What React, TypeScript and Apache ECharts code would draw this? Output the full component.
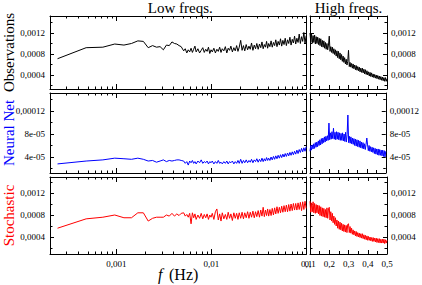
import React, { useEffect, useRef } from 'react';
import * as echarts from 'echarts';

// ---------- DATA ----------
const panelTitles = ['Low freqs.', 'High freqs.'];
const rowNames = ['Observations', 'Neural Net', 'Stochastic'];
const rowColors = ['#000000', '#0000ff', '#ff0000'];

// frequency bins (Hz) shown in the low-frequency (log) panel
const freqLow = [
  0.00024, 0.00048, 0.00072, 0.00096, 0.0012, 0.00144, 0.00168, 0.00192, 0.00216, 0.0024,
  0.00264, 0.00288, 0.00312, 0.00336, 0.0036, 0.00384, 0.00408, 0.00432, 0.00456, 0.0048,
  0.0051, 0.0053, 0.0055, 0.0057, 0.0059, 0.0061, 0.0063, 0.0065, 0.0067, 0.0069,
  0.0072, 0.0075, 0.0078, 0.0081, 0.0084, 0.0087, 0.009, 0.0093, 0.0096, 0.0099,
  0.0102, 0.0106, 0.011, 0.0114, 0.0118, 0.0122, 0.0126, 0.013, 0.0135, 0.014,
  0.0145, 0.015, 0.0155, 0.016, 0.0166, 0.0172, 0.0178, 0.0184, 0.019, 0.0196,
  0.0203, 0.021, 0.0217, 0.0224, 0.0232, 0.024, 0.0248, 0.0256, 0.0264, 0.0273,
  0.0282, 0.0291, 0.03, 0.031, 0.032, 0.033, 0.034, 0.035, 0.036, 0.037,
  0.038, 0.039, 0.04,
  0.0412, 0.0424, 0.0436, 0.0449, 0.0462, 0.0475, 0.0489, 0.0503, 0.0518, 0.0533,
  0.0548, 0.0564, 0.058, 0.0597, 0.0614, 0.0632, 0.065, 0.0669, 0.0688, 0.0708,
  0.0728, 0.0749, 0.077, 0.0792, 0.0815, 0.0838, 0.0862, 0.0887, 0.0912, 0.0938,
  0.0965, 0.0992,
];

// frequency bins (Hz) shown in the high-frequency (linear) panel
const freqHigh = [
  0.1, 0.104, 0.108, 0.112, 0.116, 0.12, 0.124, 0.128, 0.132, 0.136,
  0.14, 0.144, 0.148, 0.152, 0.156, 0.16, 0.164, 0.168, 0.172, 0.176,
  0.18, 0.184, 0.188, 0.192, 0.196, 0.2, 0.204, 0.208, 0.212, 0.216,
  0.22, 0.224, 0.228, 0.232, 0.236, 0.24, 0.244, 0.248, 0.252, 0.256,
  0.26, 0.264, 0.268, 0.272, 0.276, 0.28, 0.284, 0.288, 0.292, 0.296,
  0.3, 0.304, 0.308, 0.312, 0.316, 0.32, 0.324, 0.328, 0.332, 0.336,
  0.34, 0.344, 0.348, 0.352, 0.356, 0.36, 0.364, 0.368, 0.372, 0.376,
  0.38, 0.384, 0.388, 0.392, 0.396, 0.4, 0.404, 0.408, 0.412, 0.416,
  0.42, 0.424, 0.428, 0.432, 0.436, 0.44, 0.444, 0.448, 0.452, 0.456,
  0.46, 0.464, 0.468, 0.472, 0.476, 0.48, 0.484, 0.488, 0.492, 0.496,
  0.5,
];

const obsLow = [
  7.1e-4, 9.2e-4, 9.3e-4, 9.9e-4, 9.7e-4, 1.0e-3, 1.05e-3, 1.04e-3, 9.2e-4, 9.6e-4,
  9.3e-4, 9.4e-4, 8.8e-4, 9.7e-4, 9.6e-4, 1.03e-3, 1.0e-3, 9.9e-4, 9.6e-4, 9.4e-4,
  8.6e-4, 9.0e-4, 8.2e-4, 8.8e-4, 8.4e-4, 9.1e-4, 8.3e-4, 8.9e-4, 9.5e-4, 8.4e-4,
  9.0e-4, 8.2e-4, 8.7e-4, 9.2e-4, 8.3e-4, 8.9e-4, 8.5e-4, 9.3e-4, 8.1e-4, 8.8e-4,
  8.4e-4, 9.1e-4, 8.2e-4, 8.9e-4, 8.5e-4, 9.3e-4, 8.3e-4, 9.0e-4, 8.6e-4, 9.4e-4,
  8.2e-4, 9.1e-4, 8.7e-4, 9.5e-4, 8.4e-4, 9.2e-4, 8.6e-4, 9.6e-4, 8.5e-4, 9.3e-4,
  10.6e-4, 8.7e-4, 9.6e-4, 8.6e-4, 9.8e-4, 8.8e-4, 9.5e-4, 8.9e-4, 10.1e-4, 8.7e-4,
  9.7e-4, 9.0e-4, 10.0e-4, 8.9e-4, 9.9e-4, 9.2e-4, 10.3e-4, 9.0e-4, 9.8e-4, 9.3e-4,
  10.4e-4, 9.1e-4, 10.0e-4,
  9.4e-4, 10.5e-4, 9.3e-4, 10.2e-4, 9.6e-4, 10.7e-4, 9.4e-4, 10.4e-4, 9.7e-4, 10.9e-4,
  9.5e-4, 10.6e-4, 9.8e-4, 11.0e-4, 9.6e-4, 10.7e-4, 10.0e-4, 11.2e-4, 9.7e-4, 10.8e-4,
  10.1e-4, 11.4e-4, 9.9e-4, 11.0e-4, 10.2e-4, 11.8e-4, 10.0e-4, 11.3e-4, 10.4e-4, 12.1e-4,
  10.1e-4, 11.5e-4,
];
const obsHigh = [
  12.0e-4, 10.3e-4, 11.8e-4, 10.1e-4, 11.5e-4, 10.2e-4, 11.6e-4, 9.9e-4, 11.3e-4, 10.0e-4,
  11.2e-4, 9.8e-4, 11.0e-4,
  9.6e-4, 10.9e-4, 9.4e-4, 10.6e-4, 9.3e-4, 10.5e-4, 9.1e-4, 10.2e-4, 8.9e-4, 10.0e-4,
  8.8e-4, 9.7e-4,
  11.4e-4,
  8.5e-4, 9.4e-4, 8.3e-4, 9.3e-4, 8.1e-4, 9.0e-4, 7.9e-4, 8.8e-4, 7.6e-4, 8.6e-4, 7.3e-4,
  8.5e-4, 7.1e-4, 8.2e-4, 6.9e-4, 7.9e-4, 6.6e-4, 7.6e-4, 6.4e-4, 7.3e-4, 6.1e-4,
  7.0e-4, 5.9e-4, 6.6e-4, 8.7e-4,
  5.6e-4, 6.4e-4, 5.5e-4, 6.2e-4, 5.3e-4, 6.1e-4, 5.2e-4, 5.9e-4, 5.0e-4, 5.8e-4,
  4.9e-4, 5.6e-4, 4.8e-4, 5.5e-4, 4.6e-4, 5.3e-4,
  4.5e-4, 5.3e-4, 4.4e-4, 5.1e-4, 4.2e-4, 5.0e-4, 4.1e-4, 4.8e-4, 4.0e-4, 4.6e-4,
  3.8e-4, 4.5e-4, 3.7e-4, 4.4e-4, 3.6e-4, 4.2e-4, 3.5e-4,
  4.1e-4, 3.4e-4, 4.0e-4, 3.3e-4, 3.9e-4, 3.2e-4, 3.8e-4, 3.1e-4, 3.7e-4, 3.0e-4,
  3.6e-4, 2.9e-4, 3.5e-4, 2.8e-4, 3.5e-4, 2.8e-4, 3.3e-4,
];

const netLow = [
  2.8e-5, 3.3e-5, 3.5e-5, 3.8e-5, 3.7e-5, 3.6e-5, 3.8e-5, 3.6e-5, 3.3e-5, 3.4e-5,
  3.1e-5, 3.3e-5, 3.5e-5, 3.2e-5, 3.4e-5, 3.3e-5, 3.4e-5, 3.5e-5, 3.5e-5, 3.4e-5,
  3.3e-5, 2.9e-5, 3.2e-5, 2.6e-5, 3.3e-5, 3.0e-5, 3.4e-5, 2.9e-5, 3.2e-5, 2.8e-5,
  3.3e-5, 3.0e-5, 3.5e-5, 2.9e-5, 3.2e-5, 3.0e-5, 3.3e-5, 2.8e-5, 3.2e-5, 3.0e-5,
  3.3e-5, 2.8e-5, 3.2e-5, 2.9e-5, 3.4e-5, 2.9e-5, 3.1e-5, 2.8e-5, 3.2e-5, 2.9e-5,
  3.3e-5, 2.8e-5, 3.2e-5, 3.0e-5, 3.3e-5, 2.8e-5, 3.2e-5, 2.9e-5, 3.4e-5, 2.9e-5,
  3.6e-5, 2.9e-5, 3.4e-5, 3.0e-5, 3.5e-5, 3.0e-5, 3.4e-5, 3.1e-5, 3.6e-5, 3.0e-5,
  3.5e-5, 3.2e-5, 3.7e-5, 3.1e-5, 3.6e-5, 3.2e-5, 3.8e-5, 3.2e-5, 3.7e-5, 3.3e-5,
  3.9e-5, 3.4e-5, 3.8e-5,
  3.4e-5, 4.0e-5, 3.5e-5, 4.1e-5, 3.6e-5, 4.2e-5, 3.7e-5, 4.3e-5, 3.8e-5, 4.4e-5,
  3.9e-5, 4.5e-5, 4.0e-5, 4.6e-5, 4.1e-5, 4.7e-5, 4.2e-5, 4.8e-5, 4.3e-5, 4.9e-5,
  4.4e-5, 5.0e-5, 4.5e-5, 5.2e-5, 4.6e-5, 5.3e-5, 4.8e-5, 5.5e-5, 4.9e-5, 5.6e-5,
  5.0e-5, 5.8e-5,
];
const netHigh = [
  5.0e-5, 6.0e-5, 5.2e-5, 6.1e-5, 5.4e-5, 6.3e-5, 5.5e-5, 6.5e-5, 5.7e-5, 6.6e-5,
  5.8e-5, 6.8e-5, 6.0e-5,
  7.0e-5, 6.1e-5, 7.2e-5, 6.3e-5, 7.3e-5, 6.5e-5, 7.5e-5, 6.6e-5, 7.6e-5, 6.8e-5,
  7.7e-5, 6.9e-5,
  9.9e-5,
  7.0e-5, 8.2e-5, 7.1e-5, 8.4e-5, 7.2e-5, 9.0e-5, 7.1e-5, 8.3e-5, 7.0e-5, 8.4e-5, 7.1e-5,
  8.3e-5, 7.0e-5, 8.2e-5, 6.9e-5, 8.1e-5, 6.9e-5, 8.2e-5, 6.8e-5, 8.0e-5, 6.7e-5,
  8.3e-5, 6.6e-5, 7.9e-5, 11.3e-5,
  6.5e-5, 7.6e-5, 6.4e-5, 7.5e-5, 6.3e-5, 7.3e-5, 6.2e-5, 7.2e-5, 6.0e-5, 7.1e-5,
  5.9e-5, 7.0e-5, 5.8e-5, 6.9e-5, 5.7e-5, 6.8e-5,
  5.6e-5, 6.6e-5, 5.5e-5, 6.5e-5, 5.4e-5, 6.3e-5, 5.3e-5, 6.2e-5, 7.3e-5, 6.1e-5,
  5.1e-5, 6.0e-5, 5.0e-5, 5.8e-5, 4.9e-5, 5.7e-5, 4.8e-5,
  5.6e-5, 4.6e-5, 5.5e-5, 4.5e-5, 5.4e-5, 4.4e-5, 5.4e-5, 4.3e-5, 5.3e-5, 4.3e-5,
  5.2e-5, 4.2e-5, 5.2e-5, 4.1e-5, 5.1e-5, 4.0e-5, 5.0e-5,
];

const stoLow = [
  5.6e-4, 7.3e-4, 7.6e-4, 8.0e-4, 7.5e-4, 7.5e-4, 8.4e-4, 8.4e-4, 6.9e-4, 7.4e-4,
  7.6e-4, 7.6e-4, 7.6e-4, 8.0e-4, 7.8e-4, 8.3e-4, 7.8e-4, 8.2e-4, 7.9e-4, 8.3e-4,
  8.4e-4, 7.8e-4, 8.1e-4, 7.6e-4, 8.3e-4, 6.4e-4, 8.4e-4, 7.5e-4, 8.2e-4, 7.2e-4,
  8.0e-4, 7.4e-4, 8.3e-4, 7.3e-4, 8.1e-4, 7.5e-4, 8.2e-4, 7.2e-4, 8.0e-4, 7.6e-4,
  8.3e-4, 7.2e-4, 8.6e-4, 9.1e-4, 7.1e-4, 8.2e-4, 6.9e-4, 8.4e-4, 7.3e-4, 8.1e-4,
  7.2e-4, 8.5e-4, 7.4e-4, 8.2e-4, 7.0e-4, 8.4e-4, 7.4e-4, 8.3e-4, 7.2e-4, 8.4e-4,
  7.4e-4, 8.5e-4, 7.3e-4, 8.4e-4, 7.5e-4, 8.6e-4, 7.4e-4, 8.5e-4, 7.6e-4, 8.7e-4,
  7.5e-4, 8.6e-4, 7.7e-4, 8.8e-4, 7.6e-4, 8.9e-4, 7.8e-4, 9.4e-4, 7.7e-4, 8.9e-4,
  7.9e-4, 9.1e-4, 7.8e-4,
  9.0e-4, 7.9e-4, 9.2e-4, 8.0e-4, 9.3e-4, 8.2e-4, 9.5e-4, 8.3e-4, 9.4e-4, 8.4e-4,
  9.6e-4, 8.5e-4, 9.7e-4, 8.6e-4, 9.8e-4, 8.6e-4, 9.9e-4, 8.7e-4, 10.0e-4, 8.8e-4,
  10.1e-4, 8.9e-4, 10.1e-4, 8.9e-4, 10.2e-4, 9.0e-4, 10.3e-4, 8.8e-4, 10.4e-4, 9.0e-4,
  10.5e-4, 9.2e-4,
];
const stoHigh = [
  10.5e-4, 8.5e-4, 10.2e-4, 8.6e-4, 10.4e-4, 8.4e-4, 10.1e-4, 8.3e-4, 9.9e-4, 8.4e-4,
  9.8e-4, 8.2e-4, 9.7e-4,
  7.9e-4, 9.5e-4, 7.8e-4, 9.3e-4, 7.7e-4, 9.2e-4, 7.6e-4, 9.0e-4, 7.5e-4, 9.3e-4,
  7.4e-4, 9.1e-4,
  9.4e-4,
  7.1e-4, 8.6e-4, 6.9e-4, 8.3e-4, 6.6e-4, 7.8e-4, 6.3e-4, 7.5e-4, 6.0e-4, 7.1e-4, 5.6e-4,
  6.9e-4, 5.4e-4, 6.7e-4, 5.3e-4, 6.5e-4, 5.1e-4, 6.3e-4, 5.0e-4, 6.2e-4, 4.9e-4,
  6.1e-4, 4.8e-4, 6.3e-4, 6.4e-4,
  4.8e-4, 5.9e-4, 4.7e-4, 5.6e-4, 4.5e-4, 5.3e-4, 4.4e-4, 5.1e-4, 4.2e-4, 5.0e-4,
  4.1e-4, 4.8e-4, 4.0e-4, 4.7e-4, 3.9e-4, 4.6e-4,
  3.8e-4, 4.6e-4, 3.7e-4, 4.4e-4, 3.6e-4, 4.3e-4, 3.5e-4, 4.2e-4, 3.4e-4, 4.1e-4,
  3.4e-4, 4.0e-4, 3.3e-4, 3.9e-4, 3.2e-4, 3.9e-4, 3.2e-4,
  3.8e-4, 3.1e-4, 3.8e-4, 3.0e-4, 3.7e-4, 3.0e-4, 3.7e-4, 2.9e-4, 3.6e-4, 2.9e-4,
  3.6e-4, 2.9e-4, 3.6e-4, 2.8e-4, 3.5e-4, 2.9e-4, 3.4e-4,
];

const lowValues = [obsLow, netLow, stoLow];
const highValues = [obsHigh, netHigh, stoHigh];

// axis ranges and ticks
const xLowRange = [0.0002, 0.1];
const xHighRange = [0.1, 0.5];
const xLowMinorTicks = [
  0.0003, 0.0004, 0.0005, 0.0006, 0.0007, 0.0008, 0.0009,
  0.002, 0.003, 0.004, 0.005, 0.006, 0.007, 0.008, 0.009,
  0.02, 0.03, 0.04, 0.05, 0.06, 0.07, 0.08, 0.09,
];
const yMin = [0.000133, 0.0000122, 0.000091];
const yMax = [0.001524, 0.0001513, 0.001491];
const yMajor = [
  [0.0004, 0.0008, 0.0012],
  [4e-5, 8e-5, 1.2e-4],
  [0.0004, 0.0008, 0.0012],
];
const yMinor = [
  [0.0002, 0.0006, 0.001, 0.0014],
  [2e-5, 6e-5, 1e-4, 1.4e-4],
  [0.0002, 0.0006, 0.001, 0.0014],
];

// ---------- LAYOUT ----------
const FONT = 'Liberation Serif';
const colLeft = [50, 310];
const colWidth = [256.5, 77];
const rowTop = [16, 93, 177];
const rowHeight = [73, 80, 77];

const fmtLog = (v: number) => {
  const e = Math.log10(v);
  const r = Math.round(e);
  if (Math.abs(e - r) > 0.01) return '';
  return '0,' + '0'.repeat(-r - 1) + '1';
};
const fmtHigh = (v: number) => v.toFixed(1).replace('.', ',');
const fmtY = (v: number) =>
  v < 9.9e-5 ? `${Math.round(v * 1e5)}e-05` : String(+v.toPrecision(2)).replace('.', ',');

function buildOption() {
  const axisLine = { show: true, onZero: false, lineStyle: { color: '#000', width: 1 } };
  const tickMajor = { show: true, inside: true, length: 4, lineStyle: { color: '#000', width: 1 } };
  const tickMinor = { show: true, inside: true, length: 2.5, lineStyle: { color: '#000', width: 1 } };
  const labelBase = { fontFamily: FONT, fontSize: 9, color: '#000' };
  const noSplit = { show: false };

  const grids: any[] = [];
  const xAxes: any[] = [];
  const yAxes: any[] = [];
  const series: any[] = [];
  const lowMinorLog = xLowMinorTicks.map((v) => Math.log10(v));

  for (let r = 0; r < 3; r++) {
    for (let c = 0; c < 2; c++) {
      const gi = grids.length;
      grids.push({ left: colLeft[c], width: colWidth[c], top: rowTop[r], height: rowHeight[r] });
      const showX = r === 2;
      const xi = xAxes.length;
      if (c === 0) {
        for (const pos of ['bottom', 'top']) {
          xAxes.push({
            type: 'log', logBase: 10, gridIndex: gi, position: pos,
            min: xLowRange[0], max: xLowRange[1],
            axisLine, axisTick: { ...tickMajor, length: 5 },
            axisLabel: { ...labelBase, show: showX && pos === 'bottom', formatter: fmtLog, margin: 5, showMinLabel: false },
            splitLine: noSplit,
          });
        }
        for (const pos of ['bottom', 'top']) {
          xAxes.push({
            type: 'value', gridIndex: gi, position: pos,
            min: Math.log10(xLowRange[0]), max: Math.log10(xLowRange[1]),
            axisLine: { show: false }, axisTick: { ...tickMinor, customValues: lowMinorLog },
            axisLabel: { show: false }, splitLine: noSplit,
          });
        }
      } else {
        for (const pos of ['bottom', 'top']) {
          xAxes.push({
            type: 'value', gridIndex: gi, position: pos,
            min: xHighRange[0], max: xHighRange[1], interval: 0.1,
            axisLine, axisTick: tickMajor,
            minorTick: { show: true, splitNumber: 2, length: 3, lineStyle: { color: '#000', width: 1 } },
            axisLabel: { ...labelBase, show: showX && pos === 'bottom', formatter: fmtHigh, margin: 5 },
            splitLine: noSplit, minorSplitLine: { show: false },
          });
        }
      }
      const yi = yAxes.length;
      for (const pos of ['left', 'right']) {
        const showY = (c === 0 && pos === 'left') || (c === 1 && pos === 'right');
        yAxes.push({
          type: 'value', gridIndex: gi, position: pos,
          min: yMin[r], max: yMax[r],
          axisLine, axisTick: { ...tickMajor, customValues: yMajor[r] },
          axisLabel: { ...labelBase, show: showY, customValues: yMajor[r], formatter: fmtY, margin: pos === 'left' ? 5 : 4 },
          splitLine: noSplit,
        });
        yAxes.push({
          type: 'value', gridIndex: gi, position: pos,
          min: yMin[r], max: yMax[r],
          axisLine: { show: false, onZero: false }, axisTick: { ...tickMinor, customValues: yMinor[r] },
          axisLabel: { show: false }, splitLine: noSplit,
        });
      }
      const freqs = c === 0 ? freqLow : freqHigh;
      const vals = c === 0 ? lowValues[r] : highValues[r];
      const n = Math.min(freqs.length, vals.length);
      const data: number[][] = [];
      for (let i = 0; i < n; i++) data.push([freqs[i], vals[i]]);
      series.push({
        type: 'line', xAxisIndex: xi, yAxisIndex: yi, data,
        showSymbol: false, symbol: 'none', silent: true,
        lineStyle: { color: rowColors[r], width: 1 },
        itemStyle: { color: rowColors[r] },
      });
    }
  }

  const txt = (x: number, y: number, text: string, size: number, fill: string, extra: any = {}) => ({
    type: 'text', x, y, ...extra,
    style: {
      text, fill, fontFamily: FONT, fontSize: size,
      fontStyle: extra.italic ? 'italic' : 'normal',
      textAlign: extra.align || 'center', textVerticalAlign: 'middle',
    },
  });

  const graphics: any[] = [
    txt(colLeft[0] + colWidth[0] / 2 + 2, 8, panelTitles[0], 15, '#000'),
    txt(colLeft[1] + colWidth[1] / 2, 8, panelTitles[1], 15, '#000'),
    txt(158, 274, 'f', 16, '#000', { align: 'left', italic: true }),
    txt(169, 274, '(Hz)', 16, '#000', { align: 'left' }),
  ];
  for (let r = 0; r < 3; r++) {
    graphics.push(
      txt(9, rowTop[r] + rowHeight[r] / 2, rowNames[r], 15, rowColors[r], { rotation: Math.PI / 2 }),
    );
  }
  graphics.forEach((g) => { delete g.italic; delete g.align; });

  return {
    animation: false,
    backgroundColor: '#ffffff',
    grid: grids,
    xAxis: xAxes,
    yAxis: yAxes,
    series,
    graphic: { elements: graphics },
  };
}

export default function App() {
  const ref = useRef<HTMLDivElement>(null);
  useEffect(() => {
    if (!ref.current) return;
    const chart = echarts.init(ref.current, undefined, { renderer: 'svg' });
    chart.setOption(buildOption() as any);
    return () => chart.dispose();
  }, []);
  return (
    <div
      ref={ref}
      style={{ position: 'absolute', left: 0, top: 0, width: 422, height: 285 }}
    />
  );
}
